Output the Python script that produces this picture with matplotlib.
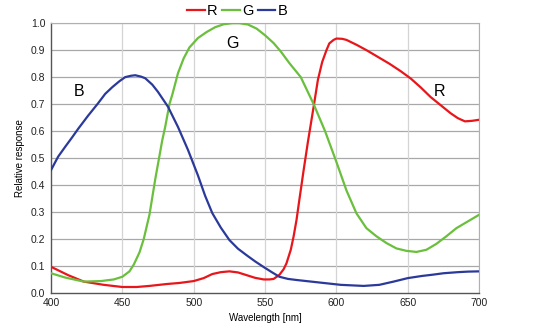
import matplotlib.pyplot as plt

plt.rcParams['font.family'] = ['Liberation Sans', 'DejaVu Sans']

# Spectral response curves read per channel
wl_r = [400, 412, 423, 437, 450, 460, 469, 481, 490, 500, 507, 513, 519, 525, 531, 537, 543, 549, 553, 556,
        560, 563, 565, 568, 570, 572, 574, 577, 580, 584, 587, 590, 593, 595, 598, 600, 604, 607, 614, 621,
        629, 637, 645, 652, 659, 666, 673, 680, 685, 690, 695, 700]
resp_r = [0.097, 0.066, 0.042, 0.030, 0.022, 0.022, 0.026, 0.033, 0.037, 0.044, 0.055, 0.070, 0.077, 0.080,
          0.076, 0.066, 0.056, 0.050, 0.050, 0.052, 0.067, 0.088, 0.110, 0.160, 0.210, 0.270, 0.345, 0.455,
          0.560, 0.690, 0.790, 0.856, 0.900, 0.925, 0.938, 0.943, 0.942, 0.938, 0.920, 0.900, 0.875, 0.850,
          0.822, 0.795, 0.762, 0.726, 0.696, 0.666, 0.648, 0.636, 0.638, 0.642]

wl_g = [400, 410, 423, 435, 444, 450, 455, 458, 462, 465, 469, 473, 478, 480, 483, 485, 489, 493, 497, 503,
        509, 515, 521, 527, 532, 538, 544, 550, 556, 561, 567, 575, 584, 592, 600, 607, 614, 621, 628, 635,
        642, 649, 656, 663, 670, 677, 684, 692, 700]
resp_g = [0.073, 0.057, 0.042, 0.044, 0.050, 0.060, 0.080, 0.105, 0.150, 0.200, 0.290, 0.420, 0.567, 0.615,
          0.700, 0.735, 0.815, 0.870, 0.910, 0.945, 0.967, 0.985, 0.996, 1.000, 1.000, 0.995, 0.980, 0.955,
          0.926, 0.895, 0.852, 0.800, 0.700, 0.600, 0.485, 0.380, 0.295, 0.240, 0.210, 0.185, 0.165, 0.156,
          0.152, 0.160, 0.182, 0.210, 0.240, 0.265, 0.290]

wl_b = [400, 405, 410, 415, 419, 426, 433, 438, 443, 448, 452, 456, 459, 463, 466, 471, 475, 482, 489, 496,
        503, 508, 513, 519, 525, 531, 537, 543, 549, 555, 560, 566, 572, 584, 603, 619, 630, 640, 650, 660,
        668, 675, 685, 692, 700]
resp_b = [0.455, 0.505, 0.542, 0.578, 0.608, 0.657, 0.703, 0.738, 0.763, 0.785, 0.800, 0.805, 0.807, 0.802,
          0.796, 0.772, 0.745, 0.690, 0.615, 0.530, 0.435, 0.360, 0.296, 0.242, 0.196, 0.164, 0.140, 0.117,
          0.096, 0.076, 0.060, 0.052, 0.048, 0.041, 0.030, 0.026, 0.030, 0.042, 0.055, 0.063, 0.068, 0.073,
          0.077, 0.079, 0.080]

x_ticks = [400, 450, 500, 550, 600, 650, 700]
y_ticks = [0.0, 0.1, 0.2, 0.3, 0.4, 0.5, 0.6, 0.7, 0.8, 0.9, 1.0]

red = '#e8161b'
green = '#6abf3c'
blue = '#2b3a9a'

fig = plt.figure(figsize=(5.54, 3.31), dpi=100)
ax = fig.add_axes([0.092, 0.115, 0.773, 0.815])

for y in y_ticks[1:]:
    ax.axhline(y, color='#a8a8a8', lw=0.9, zorder=1)
for x in x_ticks[1:]:
    ax.axvline(x, color='#d4d4d4', lw=0.9, zorder=1)

ax.plot(wl_r, resp_r, color=red, lw=1.6, label='R', zorder=3)
ax.plot(wl_g, resp_g, color=green, lw=1.6, label='G', zorder=3)
ax.plot(wl_b, resp_b, color=blue, lw=1.6, label='B', zorder=3)

ax.text(420, 0.745, 'B', fontsize=11.5, ha='center', va='center')
ax.text(527, 0.925, 'G', fontsize=11.5, ha='center', va='center')
ax.text(672, 0.745, 'R', fontsize=11.5, ha='center', va='center')

ax.set_xlim(400, 700)
ax.set_ylim(0, 1.0)
ax.set_xticks(x_ticks)
ax.set_yticks(y_ticks)
ax.set_yticklabels([f'{v:.1f}' for v in y_ticks])
ax.tick_params(length=0, labelsize=7.5, pad=4, colors='#222222')

for side in ['top', 'right']:
    ax.spines[side].set_color('#b0b0b0')
for side in ['left', 'bottom']:
    ax.spines[side].set_color('#555555')
    ax.spines[side].set_linewidth(1.0)

ax.set_xlabel('Wavelength [nm]', fontsize=7, labelpad=3)
ax.set_ylabel('Relative response', fontsize=7, labelpad=4)

ax.legend(loc='lower center', bbox_to_anchor=(0.435, 0.985), ncol=3, frameon=False,
          fontsize=10.5, handlelength=1.2, handletextpad=0.15, columnspacing=0.3, borderpad=0.1)

fig.savefig('out.png', dpi=100)
